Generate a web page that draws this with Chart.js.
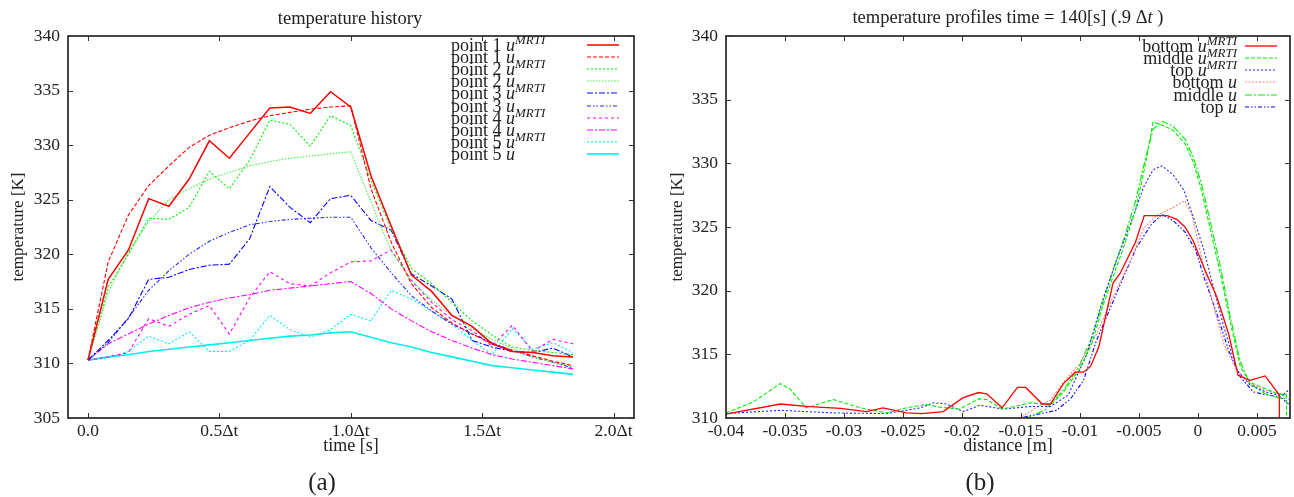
<!DOCTYPE html>
<html>
<head>
<meta charset="utf-8">
<script src="https://cdn.jsdelivr.net/npm/chart.js@4.4.1/dist/chart.umd.min.js"></script>
<style>
  body { margin: 0; background: #fff; width: 1294px; height: 497px; position: relative; overflow: hidden;
         font-family: "Liberation Serif", serif; color: #222; }
  canvas { position: absolute; top: 0; }
  .t { position: absolute; white-space: nowrap; transform: translate(-50%, -50%); font-size: 18.5px; }
  .lg { position: absolute; white-space: nowrap; font-size: 18px; line-height: 18px; transform: translateY(-50%); }
  .lg sup { font-size: 13px; vertical-align: 0; position: relative; top: -7px; line-height: 0; }
  svg.s { position: absolute; }
</style>
</head>
<body>
<canvas id="c1" width="647" height="497" style="left:0"></canvas>
<canvas id="c2" width="647" height="497" style="left:647px"></canvas>
<div class="t" style="left:350px;top:18px">temperature history</div>
<div class="t" style="left:1008px;top:17px">temperature profiles time = 140[s] (.9 Δ<i>t</i> )</div>
<div class="t" style="left:322px;top:482px;font-size:25px">(a)</div>
<div class="t" style="left:980px;top:482px;font-size:25px">(b)</div>
<div id="leg"></div>
<script>
// ---- (a) temperature history, time in units of Δt ----
const times = [0, 0.077, 0.154, 0.231, 0.308, 0.385, 0.462, 0.538, 0.615, 0.692, 0.769, 0.846, 0.923,
               1.0, 1.077, 1.154, 1.231, 1.308, 1.385, 1.462, 1.538, 1.615, 1.692, 1.769, 1.846];
const p1Mrti = [310.3, 317.7, 320.4, 325.1, 324.4, 326.9, 330.4, 328.8, 331.1, 333.4, 333.5, 332.9, 334.9,
                333.5, 327.2, 322.6, 318.1, 316.6, 314.4, 313.4, 311.8, 311.1, 311.0, 310.7, 310.6];
const p1U    = [310.3, 319.3, 323.6, 326.3, 328.1, 329.8, 330.9, 331.6, 332.2, 332.7, 333.0, 333.3, 333.5,
                333.6, 326.0, 321.1, 317.3, 315.1, 313.7, 312.7, 311.8, 311.2, 310.7, 310.2, 309.8];
const p2Mrti = [310.3, 317.0, 320.0, 323.3, 323.2, 324.3, 327.6, 326.0, 328.6, 332.3, 331.9, 329.9, 332.7,
                331.8, 326.8, 322.3, 318.7, 317.3, 315.6, 313.9, 312.6, 311.5, 311.2, 311.0, 310.8];
const p2U    = [310.3, 316.5, 320.2, 323.0, 325.0, 326.0, 326.9, 327.5, 328.1, 328.5, 328.8, 329.0, 329.2,
                329.4, 324.8, 320.3, 317.6, 315.8, 314.4, 313.2, 312.2, 311.4, 310.6, 310.1, 309.7];
const p3Mrti = [310.3, 312.1, 314.1, 317.7, 317.9, 318.6, 319.0, 319.1, 321.4, 326.2, 324.3, 322.9, 325.1,
                325.4, 323.1, 322.2, 318.2, 317.1, 315.9, 312.1, 311.5, 311.1, 311.0, 311.4, 310.6];
const p3U    = [310.3, 311.9, 314.2, 316.7, 318.5, 320.0, 321.2, 322.0, 322.7, 323.0, 323.2, 323.3, 323.4,
                323.4, 320.6, 318.3, 316.2, 314.8, 313.6, 312.7, 311.9, 311.2, 310.6, 310.1, 309.6];
const p4Mrti = [310.3, 310.6, 311.0, 314.1, 313.4, 314.5, 315.3, 312.7, 316.0, 318.4, 317.3, 317.1, 318.3,
                319.3, 319.4, 320.4, 317.6, 315.6, 314.0, 313.0, 311.6, 313.5, 311.1, 312.2, 311.8];
const p4U    = [310.3, 311.8, 312.7, 313.6, 314.4, 315.1, 315.6, 316.0, 316.3, 316.7, 316.9, 317.1, 317.3,
                317.5, 316.4, 315.0, 313.9, 312.9, 312.1, 311.4, 310.8, 310.4, 310.1, 309.8, 309.5];
const p5Mrti = [310.3, 310.5, 311.1, 312.5, 311.8, 312.9, 311.1, 311.1, 312.1, 314.4, 313.1, 312.4, 313.1,
                314.5, 313.9, 316.7, 315.9, 314.8, 313.6, 312.1, 310.8, 313.2, 311.3, 311.9, 311.0];
const p5U    = [310.3, 310.6, 310.8, 311.1, 311.3, 311.5, 311.7, 311.9, 312.1, 312.3, 312.5, 312.6, 312.8,
                312.9, 312.4, 311.9, 311.5, 311.0, 310.6, 310.2, 309.8, 309.6, 309.4, 309.2, 309.0];
const timeTicks = [0, 0.5, 1.0, 1.5, 2.0];
const timeTickLabels = ['0.0', '0.5Δt', '1.0Δt', '1.5Δt', '2.0Δt'];

// ---- (b) temperature profiles at 140 s ----
const botMrtiX = [-0.04, -0.0354, -0.0329, -0.0303, -0.0281, -0.0267, -0.0247, -0.0234, -0.0216, -0.0199, -0.0186,
                  -0.0179, -0.0166, -0.0153, -0.0146, -0.0132, -0.0125, -0.0114, -0.0104, -0.0097, -0.0091, -0.0084,
                  -0.0072, -0.0066, -0.0053, -0.00455, -0.0033, -0.0026, -0.0018, -0.0011, -0.0004, 0.0006, 0.0016,
                  0.0026, 0.0034, 0.0044, 0.0057, 0.0069, 0.0069];
const botMrtiT = [310.3, 311.1, 310.9, 310.75, 310.5, 310.8, 310.4, 310.35, 310.5, 311.6, 312.0,
                  311.9, 310.8, 312.4, 312.4, 311.1, 311.1, 312.7, 313.6, 313.6, 314.05, 315.6,
                  320.6, 321.35, 323.8, 325.9, 325.9, 325.9, 325.6, 325.0, 323.9, 321.6, 319.5,
                  316.6, 313.35, 312.96, 313.3, 311.8, 305];
const midMrtiX = [-0.04, -0.0377, -0.0354, -0.0346, -0.0332, -0.0309, -0.0286, -0.0264, -0.0247, -0.023, -0.0219,
                  -0.0202, -0.0186, -0.0179, -0.0166, -0.0151, -0.0142, -0.0131, -0.0125, -0.0114, -0.0101, -0.009,
                  -0.0081, -0.0072, -0.0063, -0.0053, -0.0045, -0.0038, -0.00305, -0.0021, -0.0011, -0.0004, 0.0003,
                  0.001, 0.0019, 0.0027, 0.0036, 0.0044, 0.0057, 0.0068, 0.0075, 0.0075];
const midMrtiT = [310.4, 311.25, 312.7, 312.3, 310.8, 311.45, 310.8, 310.4, 310.8, 311.07, 310.85,
                  310.7, 311.5, 311.45, 310.7, 311.0, 311.2, 311.07, 311.0, 312.05, 313.75, 315.8,
                  318.7, 321.1, 323.4, 326.3, 329.7, 333.26, 333.0, 332.6, 331.55, 330.1, 327.9,
                  325.0, 321.35, 317.7, 314.0, 312.8, 312.3, 311.9, 311.8, 305];
const topMrtiX = [-0.04, -0.0354, -0.0309, -0.0264, -0.0235, -0.0224, -0.0213, -0.0199, -0.0185, -0.0165, -0.0142,
                  -0.0125, -0.011, -0.0094, -0.0081, -0.0069, -0.0057, -0.0046, -0.0038, -0.00305, -0.0021, -0.0012,
                  -0.0004, 0.0005, 0.0013, 0.0022, 0.0033, 0.0044, 0.0057, 0.0068, 0.0078];
const topMrtiT = [310.35, 310.6, 310.4, 310.35, 310.8, 311.2, 311.1, 310.5, 311.0, 310.7, 310.9,
                  310.9, 311.8, 315.05, 319.2, 322.4, 325.3, 328.15, 329.5, 329.8, 329.1, 327.9,
                  325.8, 323.2, 320.3, 317.15, 313.75, 312.6, 312.05, 311.8, 311.0];
const botUX = [-0.04, -0.018, -0.0151, -0.0134, -0.0125, -0.0114, -0.01, -0.0086, -0.0072, -0.0057, -0.0046,
               -0.0035, -0.0023, -0.00113, -0.0005, 0.0003, 0.0012, 0.0022, 0.0033, 0.0044, 0.0056, 0.007, 0.0078];
const botUT = [309.0, 309.3, 310.0, 311.0, 311.4, 312.8, 314.3, 316.6, 319.5, 322.4, 324.9,
               325.9, 326.45, 327.05, 325.9, 322.6, 319.2, 315.8, 313.75, 312.7, 312.2, 311.9, 311.4];
const midUX = [-0.04, -0.018, -0.0145, -0.013, -0.0114, -0.0101, -0.009, -0.0081, -0.0072, -0.0063, -0.0053,
               -0.0045, -0.0038, -0.003, -0.0021, -0.0011, -0.0004, 0.0003, 0.001, 0.0019, 0.0027, 0.0036,
               0.0044, 0.0057, 0.0068, 0.0075];
const midUT = [309.2, 309.4, 310.0, 310.6, 312.2, 314.0, 316.3, 319.0, 321.6, 324.0, 327.0,
               330.2, 332.7, 333.3, 332.9, 331.9, 330.5, 328.4, 325.6, 321.9, 318.1, 314.4,
               312.7, 311.9, 311.6, 311.5];
const topUX = [-0.04, -0.018, -0.0151, -0.012, -0.0108, -0.0097, -0.0086, -0.0074, -0.0063, -0.0052, -0.004,
               -0.00305, -0.0021, -0.0011, -0.0002, 0.0006, 0.0016, 0.0026, 0.0036, 0.0047, 0.0059, 0.007,
               0.0077, 0.0078];
const topUT = [309.0, 309.3, 310.0, 310.6, 311.5, 312.95, 316.1, 318.7, 321.1, 323.4, 325.15,
               326.0, 325.5, 324.6, 323.2, 320.8, 318.2, 315.3, 313.2, 312.05, 311.8, 311.65,
               312.2, 312.1];
const distTicks = [-0.04, -0.035, -0.03, -0.025, -0.02, -0.015, -0.01, -0.005, 0, 0.005];
const distTickLabels = ['-0.04', '-0.035', '-0.03', '-0.025', '-0.02', '-0.015', '-0.01', '-0.005', '0', '0.005'];

const FONT = 'Liberation Serif';

function pts(xs, ys) { return xs.map((x, i) => ({x: x, y: ys[i]})); }

function ds(label, sup, data, color, dash, width) {
  return {label: label, sup: sup, data: data, borderColor: color, borderDash: dash,
          borderWidth: width || 1.1, pointRadius: 0, tension: 0, fill: false};
}

const leftSets = [
  ds('point 1', true,  pts(times, p1Mrti), '#ff0000', [], 1.5),
  ds('point 1', false, pts(times, p1U),    '#ff0000', [4, 2]),
  ds('point 2', true,  pts(times, p2Mrti), '#00ee00', [2, 2]),
  ds('point 2', false, pts(times, p2U),    '#44ee44', [1.5, 1.5]),
  ds('point 3', true,  pts(times, p3Mrti), '#0000ff', [6, 2, 2, 2]),
  ds('point 3', false, pts(times, p3U),    '#2222ff', [4, 2, 1.5, 2, 1.5, 2]),
  ds('point 4', true,  pts(times, p4Mrti), '#ff00ff', [3, 3]),
  ds('point 4', false, pts(times, p4U),    '#ff00ff', [6, 2, 2, 2]),
  ds('point 5', true,  pts(times, p5Mrti), '#00eeee', [2, 2]),
  ds('point 5', false, pts(times, p5U),    '#00eeee', [], 1.6)
];

const rightSets = [
  ds('bottom', true,  pts(botMrtiX, botMrtiT), '#ff0000', [], 1.3),
  ds('middle', true,  pts(midMrtiX, midMrtiT), '#00ee00', [4, 2]),
  ds('top',    true,  pts(topMrtiX, topMrtiT), '#2222ff', [2, 2]),
  ds('bottom', false, pts(botUX, botUT),       '#ff8080', [2, 1.5]),
  ds('middle', false, pts(midUX, midUT),       '#00ee00', [7, 2, 2, 2]),
  ds('top',    false, pts(topUX, topUT),       '#0000ff', [4, 2, 1.5, 2, 1.5, 2])
];

// gnuplot style frame with inward tick marks
const frame = {
  id: 'frame',
  afterDraw(chart) {
    const {ctx, chartArea: a, scales: {x, y}} = chart;
    ctx.save();
    ctx.strokeStyle = '#333';
    ctx.lineWidth = 1;
    ctx.beginPath();
    x.ticks.forEach(t => {
      const p = Math.round(x.getPixelForValue(t.value)) + 0.5;
      ctx.moveTo(p, a.bottom); ctx.lineTo(p, a.bottom - 5);
      ctx.moveTo(p, a.top); ctx.lineTo(p, a.top + 5);
    });
    y.ticks.forEach(t => {
      const p = Math.round(y.getPixelForValue(t.value)) + 0.5;
      ctx.moveTo(a.left, p); ctx.lineTo(a.left + 5, p);
      ctx.moveTo(a.right, p); ctx.lineTo(a.right - 5, p);
    });
    ctx.stroke();
    ctx.lineWidth = 1.8;
    ctx.strokeRect(a.left, a.top, a.right - a.left, a.bottom - a.top);
    ctx.restore();
  }
};

function makeChart(id, sets, xo, yo, pad) {
  return new Chart(document.getElementById(id), {
    type: 'line',
    data: {datasets: sets},
    plugins: [frame],
    options: {
      responsive: false,
      animation: false,
      devicePixelRatio: 1,
      layout: {padding: pad},
      plugins: {legend: {display: false}, tooltip: {enabled: false}},
      scales: {
        x: {
          type: 'linear', min: xo.min, max: xo.max,
          grid: {display: false, drawTicks: false}, border: {display: false},
          afterBuildTicks: s => { s.ticks = xo.ticks.map(v => ({value: v})); },
          afterFit: s => { s.height = 42; },
          ticks: {color: '#222', padding: 3, maxRotation: 0, autoSkip: false,
                  font: {family: FONT, size: 17.5},
                  callback: v => xo.labels[xo.ticks.indexOf(v)]},
          title: {display: true, text: xo.title, color: '#222', padding: {bottom: 3, top: 0},
                  font: {family: FONT, size: 18}}
        },
        y: {
          min: yo.min, max: 340,
          grid: {display: false, drawTicks: false}, border: {display: false},
          afterFit: s => { s.width = yo.width; },
          ticks: {stepSize: 5, color: '#222', padding: 8, font: {family: FONT, size: 17.5}},
          title: {display: true, text: 'temperature [K]', color: '#222', padding: {top: yo.tpad, bottom: 0},
                  font: {family: FONT, size: 17}}
        }
      }
    }
  });
}

makeChart('c1', leftSets,
  {min: -0.076, max: 2.078, ticks: timeTicks, labels: timeTickLabels, title: 'time [s]'},
  {min: 305, width: 68, tpad: 8},
  {top: 36, right: 13, bottom: 37, left: 0});
makeChart('c2', rightSets,
  {min: -0.04, max: 0.0078, ticks: distTicks, labels: distTickLabels, title: 'distance [m]'},
  {min: 310, width: 79, tpad: 20},
  {top: 36, right: 4, bottom: 37, left: 0});

// legends: text then a line sample, as gnuplot draws them
function legend(sets, rowY, step, textX, alignRight, sampleX) {
  const box = document.getElementById('leg');
  sets.forEach((d, k) => {
    const y = rowY + step * k;
    const div = document.createElement('div');
    div.className = 'lg';
    div.style.top = y + 'px';
    if (alignRight) { div.style.right = (1294 - textX) + 'px'; div.style.textAlign = 'right'; }
    else div.style.left = textX + 'px';
    div.innerHTML = d.label + ' <i>u</i>' + (d.sup ? '<sup><i>MRTI</i></sup>' : '');
    box.appendChild(div);
    const ns = 'http://www.w3.org/2000/svg';
    const svg = document.createElementNS(ns, 'svg');
    svg.setAttribute('class', 's');
    svg.setAttribute('width', 32); svg.setAttribute('height', 4);
    svg.style.left = sampleX + 'px'; svg.style.top = (y - 2) + 'px';
    const ln = document.createElementNS(ns, 'line');
    ln.setAttribute('x1', 0); ln.setAttribute('y1', 2); ln.setAttribute('x2', 32); ln.setAttribute('y2', 2);
    ln.setAttribute('stroke', d.borderColor);
    ln.setAttribute('stroke-width', d.borderWidth);
    if (d.borderDash.length) ln.setAttribute('stroke-dasharray', d.borderDash.join(' '));
    svg.appendChild(ln);
    box.appendChild(svg);
  });
}
legend(leftSets, 45, 12.1, 451, false, 587);
legend(rightSets, 45.7, 12.2, 1237, true, 1245);
</script>
</body>
</html>
